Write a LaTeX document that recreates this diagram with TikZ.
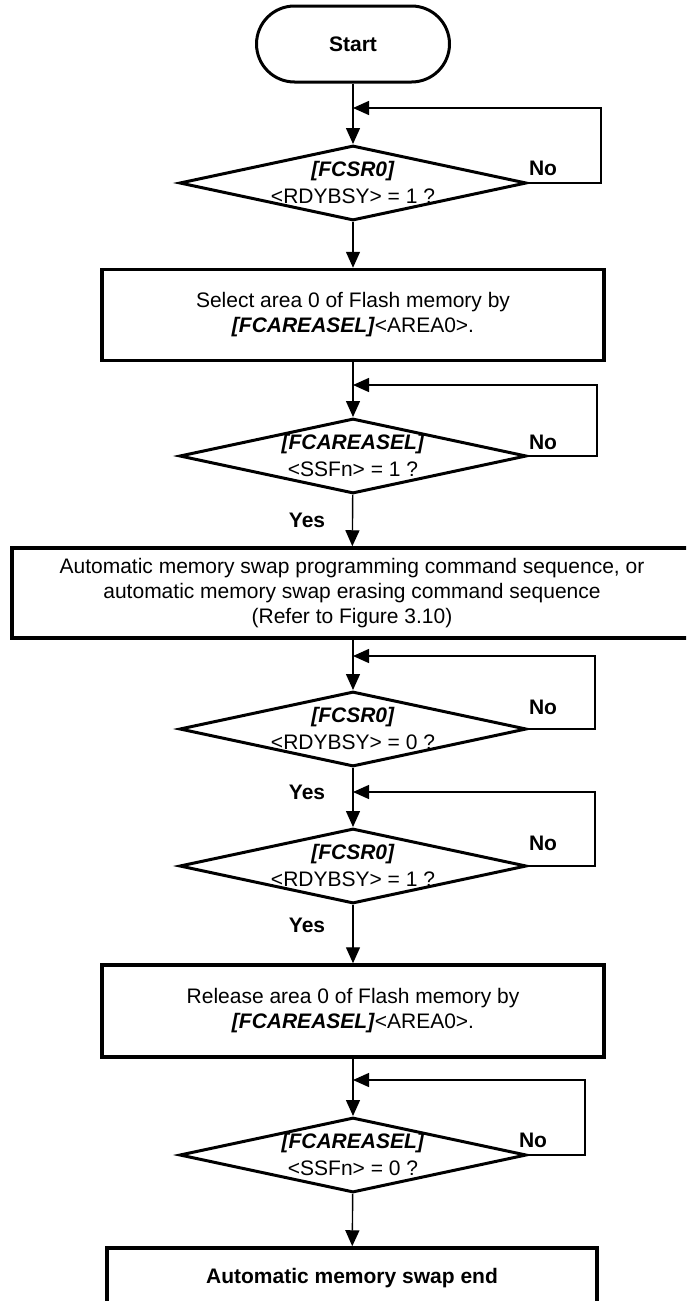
\documentclass[tikz,border=0pt]{standalone}
\usepackage{fontspec}
\setmainfont{Liberation Sans}
\usetikzlibrary{shapes.geometric,arrows.meta}
\begin{document}
\begin{tikzpicture}[x=1pt,y=-1pt,
  every node/.style={font=\fontsize{21}{25}\selectfont, inner sep=0pt},
  termbox/.style={draw, line width=3pt, rounded corners=38pt, minimum width=193pt, minimum height=76pt, font=\fontsize{21}{25}\selectfont\bfseries},
  procbox/.style={draw, line width=3.5pt, align=center},
  decision/.style={draw, shape=diamond, line width=3pt, minimum width=347pt, minimum height=75pt},
  dtext/.style={align=center, font=\fontsize{21}{27}\selectfont},
  flow/.style={line width=1.4pt, -{Triangle[length=16pt,width=14pt]}},
  lbl/.style={font=\fontsize{21}{25}\selectfont\bfseries}
]
\useasboundingbox (0,0) rectangle (686,1301);
\clip (0,0) rectangle (686,1301);

% start and first busy check
\node[termbox] (start) at (353,44) {Start};
\node[decision] (d1) at (353,183) {};
\node[dtext] (t1) at (353,182) {\textbf{\textit{[FCSR0]}}\\<RDYBSY> = 1 ?};
\coordinate (j1) at (353,108);
\node[lbl] (n1) at (543,168) {No};

% select area 0
\node[procbox, minimum width=502pt, minimum height=91pt] (b1) at (353,315)
  {Select area 0 of Flash memory by\\\textbf{\textit{[FCAREASEL]}}<AREA0>.};

\node[decision] (d2) at (353,456) {};
\node[dtext] (t2) at (353,455) {\textbf{\textit{[FCAREASEL]}}\\<SSFn> = 1 ?};
\coordinate (j2) at (353,385);
\node[lbl] (n2) at (543,442) {No};
\node[lbl] (y2) at (307,520) {Yes};

% command sequence
\node[procbox, minimum width=680pt, minimum height=90pt] (b2) at (352,593)
  {Automatic memory swap programming command sequence, or\\automatic memory swap erasing command sequence\\(Refer to Figure 3.10)};

\node[decision] (d3) at (353,729) {};
\node[dtext] (t3) at (353,728) {\textbf{\textit{[FCSR0]}}\\<RDYBSY> = 0 ?};
\coordinate (j3) at (353,656);
\node[lbl] (n3) at (543,707) {No};
\node[lbl] (y3) at (307,792) {Yes};

\node[decision] (d4) at (353,866) {};
\node[dtext] (t4) at (353,865) {\textbf{\textit{[FCSR0]}}\\<RDYBSY> = 1 ?};
\coordinate (j4) at (353,792);
\node[lbl] (n4) at (543,843) {No};
\node[lbl] (y4) at (307,925) {Yes};

% release area 0
\node[procbox, minimum width=502pt, minimum height=92pt] (b3) at (353,1011)
  {Release area 0 of Flash memory by\\\textbf{\textit{[FCAREASEL]}}<AREA0>.};

\node[decision] (d5) at (353,1155) {};
\node[dtext] (t5) at (353,1154) {\textbf{\textit{[FCAREASEL]}}\\<SSFn> = 0 ?};
\coordinate (j5) at (353,1080);
\node[lbl] (n5) at (533,1140) {No};

\node[procbox, minimum width=490pt, minimum height=60pt, font=\fontsize{21}{25}\selectfont\bfseries] (end) at (352,1278) {Automatic memory swap end};

% connectors
\draw[flow] (start) -- (d1);
\draw[flow] (d1.east) -- ++(73,0) |- (j1);
\draw[flow] (d1) -- (b1);
\draw[flow] (b1) -- (d2);
\draw[flow] (d2.east) -- ++(69,0) |- (j2);
\draw[flow] (d2) -- (b2);
\draw[flow] (b2.south -| d3) -- (d3);
\draw[flow] (d3.east) -- ++(67,0) |- (j3);
\draw[flow] (d3) -- (d4);
\draw[flow] (d4.east) -- ++(67,0) |- (j4);
\draw[flow] (d4) -- (b3);
\draw[flow] (b3) -- (d5);
\draw[flow] (d5.east) -- ++(57,0) |- (j5);
\draw[flow] (d5) -- (end);
\end{tikzpicture}
\end{document}
